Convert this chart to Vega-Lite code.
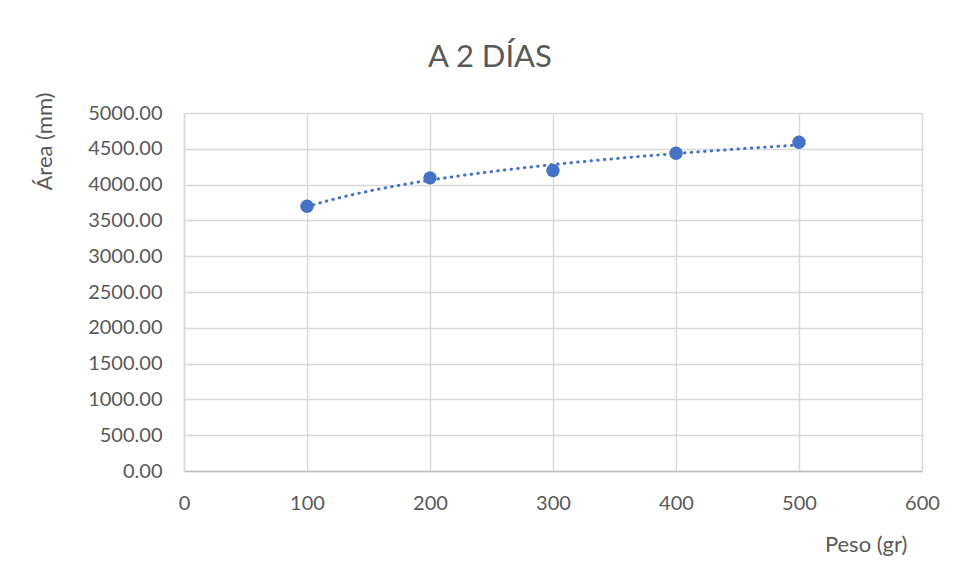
{
  "$schema": "https://vega.github.io/schema/vega-lite/v6.json",
  "autosize": "none",
  "width": 738,
  "height": 358,
  "padding": {"left": 184, "top": 113, "right": 36, "bottom": 114},
  "background": "white",
  "config": {
    "font": "Lato",
    "view": {"stroke": null},
    "axis": {"labelColor": "#595959", "titleColor": "#595959", "labelFont": "Lato", "titleFont": "Lato", "titleFontWeight": "normal"}
  },
  "title": {
    "text": "A 2 DÍAS",
    "font": "Lato",
    "fontSize": 31,
    "fontWeight": "normal",
    "color": "#595959",
    "anchor": "middle",
    "frame": "group",
    "dx": -63,
    "offset": 18
  },
  "data": {
    "values": [
      {"peso": 100, "area": 3698},
      {"peso": 200, "area": 4094},
      {"peso": 300, "area": 4198},
      {"peso": 400, "area": 4438},
      {"peso": 500, "area": 4592}
    ]
  },
  "encoding": {
    "x": {
      "field": "peso",
      "type": "quantitative",
      "scale": {"domain": [0, 600], "nice": false},
      "axis": {
        "values": [0, 100, 200, 300, 400, 500, 600],
        "grid": true,
        "gridColor": "#d9d9d9",
        "gridWidth": 1.5,
        "domainColor": "#bfbfbf",
        "domainWidth": 1.5,
        "ticks": false,
        "labelFontSize": 20,
        "labelPadding": 22,
        "labelFlush": false,
        "labelOverlap": false,
        "title": "Peso (gr)",
        "titleFontSize": 22,
        "titleAnchor": "end",
        "titleAlign": "right",
        "titleBaseline": "alphabetic",
        "titleX": 723,
        "titleY": 80
      }
    },
    "y": {
      "field": "area",
      "type": "quantitative",
      "scale": {"domain": [0, 5000], "nice": false},
      "axis": {
        "values": [0, 500, 1000, 1500, 2000, 2500, 3000, 3500, 4000, 4500, 5000],
        "format": ".2f",
        "grid": true,
        "gridColor": "#d9d9d9",
        "gridWidth": 1.5,
        "domainColor": "#d9d9d9",
        "domainWidth": 1.5,
        "ticks": false,
        "labelFontSize": 20,
        "labelPadding": 22,
        "labelFlush": false,
        "labelOverlap": false,
        "title": "Área (mm)",
        "titleFontSize": 22,
        "titleAngle": -90,
        "titleAlign": "center",
        "titleBaseline": "alphabetic",
        "titleX": -133,
        "titleY": 28
      }
    }
  },
  "layer": [
    {
      "transform": [
        {"regression": "area", "on": "peso", "method": "log", "extent": [100, 500]}
      ],
      "mark": {"type": "line", "color": "#4472C4", "strokeWidth": 3, "strokeDash": [0.5, 6.2], "strokeCap": "round"}
    },
    {
      "mark": {"type": "point", "filled": true, "shape": "circle", "size": 180, "color": "#4472C4", "opacity": 1}
    }
  ]
}
